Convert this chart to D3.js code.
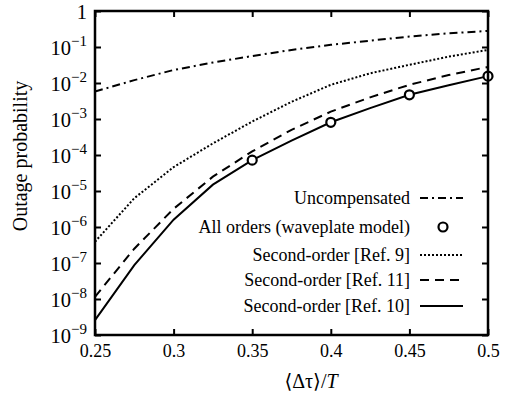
<!DOCTYPE html>
<html>
<head>
<meta charset="utf-8">
<script src="https://cdn.jsdelivr.net/npm/d3@7/dist/d3.min.js"></script>
<style>
  body { margin: 0; background: #fff; }
  svg { display: block; font-family: "Liberation Serif", "DejaVu Serif", serif; }
</style>
</head>
<body>
<div id="chart"></div>
<script>
// values
const xs = [0.25, 0.275, 0.3, 0.325, 0.35, 0.375, 0.4, 0.425, 0.45, 0.475, 0.5];
const uncompensated = [5.8e-3, 1.2e-2, 2.3e-2, 3.7e-2, 5.6e-2, 8.3e-2, 1.15e-1, 1.5e-1, 1.95e-1, 2.4e-1, 2.8e-1];
const ref9 = [3.9e-7, 6.3e-6, 4.6e-5, 2.1e-4, 8.5e-4, 3.0e-3, 8.9e-3, 1.86e-2, 3.2e-2, 5.4e-2, 8.3e-2];
const ref11 = [1.15e-8, 2.5e-7, 3.2e-6, 2.5e-5, 1.26e-4, 5.0e-4, 1.6e-3, 4.0e-3, 8.9e-3, 1.66e-2, 2.8e-2];
const ref10 = [2.6e-9, 8.7e-8, 1.6e-6, 1.5e-5, 7.2e-5, 2.5e-4, 8.1e-4, 2.0e-3, 4.7e-3, 8.7e-3, 1.55e-2];
const waveX = [0.35, 0.4, 0.45, 0.5];
const waveY = [7.2e-5, 8.1e-4, 4.7e-3, 1.55e-2];
const xTicks = [0.25, 0.3, 0.35, 0.4, 0.45, 0.5];
const yExps = [0, -1, -2, -3, -4, -5, -6, -7, -8, -9];
const legendLabels = ["Uncompensated", "All orders (waveplate model)", "Second-order [Ref. 9]", "Second-order [Ref. 11]", "Second-order [Ref. 10]"];

const width = 505, height = 403;
const margin = {top: 11, right: 17, bottom: 68, left: 95};
const iw = width - margin.left - margin.right;
const ih = height - margin.top - margin.bottom;

const svg = d3.select("#chart").append("svg")
  .attr("width", width).attr("height", height);

const g = svg.append("g").attr("transform", `translate(${margin.left},${margin.top})`);

const x = d3.scaleLinear().domain([0.25, 0.5]).range([0, iw]);
const y = d3.scaleLog().domain([1e-9, 1]).range([ih, 0]);

// line styles
const styles = {
  uncomp: "8,4,2,4",
  ref9: "2,2",
  ref11: "9,6",
  ref10: null
};

const line = d3.line().x(d => x(d[0])).y(d => y(d[1]));

function drawSeries(vals, dash) {
  g.append("path")
    .datum(xs.map((v, i) => [v, vals[i]]))
    .attr("d", line)
    .attr("fill", "none")
    .attr("stroke", "#000")
    .attr("stroke-width", 2)
    .attr("stroke-dasharray", dash);
}

drawSeries(uncompensated, styles.uncomp);
drawSeries(ref9, styles.ref9);
drawSeries(ref11, styles.ref11);
drawSeries(ref10, styles.ref10);

g.selectAll("circle.wp")
  .data(waveX.map((v, i) => [v, waveY[i]]))
  .join("circle")
    .attr("class", "wp")
    .attr("cx", d => x(d[0]))
    .attr("cy", d => y(d[1]))
    .attr("r", 4.5)
    .attr("fill", "#fff")
    .attr("stroke", "#000")
    .attr("stroke-width", 2.2);

// axes with inward ticks on all sides
const tickLen = 6;
const xb = g.append("g").attr("transform", `translate(0,${ih})`)
  .call(d3.axisBottom(x).tickValues(xTicks).tickSize(-tickLen).tickPadding(9).tickFormat(d3.format("")));
const xt = g.append("g")
  .call(d3.axisTop(x).tickValues(xTicks).tickSize(-tickLen).tickFormat(""));
const yl = g.append("g")
  .call(d3.axisLeft(y).tickValues(yExps.map(e => Math.pow(10, e))).tickSize(-tickLen).tickPadding(8).tickFormat(""));
const yr = g.append("g").attr("transform", `translate(${iw},0)`)
  .call(d3.axisRight(y).tickValues(yExps.map(e => Math.pow(10, e))).tickSize(-tickLen).tickFormat(""));

[xb, xt, yl, yr].forEach(a => {
  a.select(".domain").remove();
  a.selectAll(".tick line").attr("stroke", "#000").attr("stroke-width", 2);
});

xb.selectAll(".tick text")
  .attr("font-size", 18)
  .attr("font-family", "Liberation Serif")
  .attr("fill", "#000");

// y tick labels as 10^n with superscript
yl.selectAll(".tick").each(function(d) {
  const e = Math.round(Math.log10(d));
  const t = d3.select(this).select("text")
    .attr("font-size", 20.5)
    .attr("font-family", "Liberation Serif")
    .attr("fill", "#000")
    .attr("dy", "0.36em");
  if (e === 0) {
    t.text("1");
  } else {
    t.append("tspan").text("10");
    t.append("tspan").attr("dy", -8.5).attr("font-size", 15).text("\u2212" + (-e));
  }
});

// frame
g.append("rect")
  .attr("width", iw).attr("height", ih)
  .attr("fill", "none").attr("stroke", "#000").attr("stroke-width", 2.5);

// axis titles
svg.append("text")
  .attr("transform", `translate(27,156) rotate(-90)`)
  .attr("text-anchor", "middle")
  .attr("font-size", 20)
  .text("Outage probability");

const xl = svg.append("text")
  .attr("x", 311).attr("y", 388)
  .attr("text-anchor", "middle")
  .attr("font-size", 20);
xl.append("tspan").text("\u27E8\u0394\u03C4\u27E9/");
xl.append("tspan").attr("font-style", "italic").text("T");

// legend
const legY = [198, 227, 255, 280, 306];
const legend = svg.append("g");
legendLabels.forEach((lbl, i) => {
  legend.append("text")
    .attr("x", 410).attr("y", legY[i])
    .attr("dy", "0.35em")
    .attr("text-anchor", "end")
    .attr("font-size", 18)
    .text(lbl);
});
const legDash = [styles.uncomp, null, styles.ref9, styles.ref11, styles.ref10];
legDash.forEach((dash, i) => {
  if (i === 1) {
    legend.append("circle")
      .attr("cx", 443).attr("cy", legY[i]).attr("r", 4.5)
      .attr("fill", "#fff").attr("stroke", "#000").attr("stroke-width", 2.2);
  } else {
    legend.append("line")
      .attr("x1", 420).attr("x2", 463)
      .attr("y1", legY[i]).attr("y2", legY[i])
      .attr("stroke", "#000").attr("stroke-width", 2)
      .attr("stroke-dasharray", dash);
  }
});
</script>
</body>
</html>
